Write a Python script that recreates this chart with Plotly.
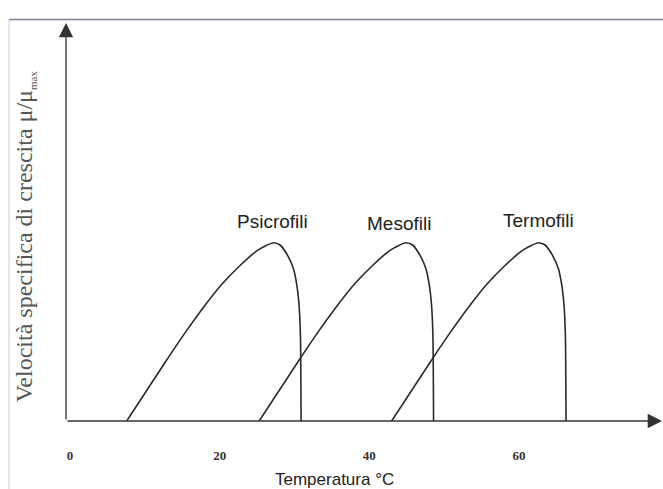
import plotly.graph_objects as go

# Growth curves: temperature (°C) vs relative specific growth rate mu/mu_max
psicrofili_t = [7.58, 10.03, 12.70, 15.37, 18.05, 20.32, 22.73, 24.96, 26.30, 27.18,
                28.07, 29.18, 29.85, 30.31, 30.61, 30.79, 30.88]
mesofili_t = [25.28, 27.73, 30.40, 33.07, 35.75, 38.02, 40.43, 42.66, 44.00, 44.88,
              45.77, 46.88, 47.55, 48.01, 48.31, 48.49, 48.58]
termofili_t = [42.98, 45.43, 48.10, 50.77, 53.45, 55.72, 58.13, 60.36, 61.70, 62.58,
               63.47, 64.58, 65.25, 65.71, 66.01, 66.19, 66.28]
growth = [0.0, 0.157, 0.328, 0.494, 0.649, 0.768, 0.872, 0.954, 0.986, 1.0,
          0.987, 0.921, 0.855, 0.762, 0.649, 0.482, 0.0]

group_names = ["Psicrofili", "Mesofili", "Termofili"]
label_t = [27.1, 44.0, 62.6]
label_y = [1.118, 1.11, 1.123]

tick_vals = [0, 20, 40, 60]
tick_text = ["0", "20", "40", "60"]

fig = go.Figure()
for temps in (psicrofili_t, mesofili_t, termofili_t):
    fig.add_trace(go.Scatter(
        x=temps, y=growth, mode="lines",
        line=dict(color="#2a2a2a", width=1.6, shape="spline", smoothing=0.6),
        hoverinfo="skip", showlegend=False,
    ))

for name, tx, ty in zip(group_names, label_t, label_y):
    fig.add_annotation(x=tx, y=ty, text=name, showarrow=False,
                       font=dict(family="Liberation Sans, Arial", size=19, color="#222222"))

# Axis arrows
fig.add_annotation(x=1, y=0, ax=0, ay=0, xref="x domain", yref="y domain",
                   axref="x domain", ayref="y domain", text="", showarrow=True,
                   arrowhead=2, arrowsize=2.2, arrowwidth=1.3, arrowcolor="#333333")
fig.add_annotation(x=0, y=1, ax=0, ay=0, xref="x domain", yref="y domain",
                   axref="x domain", ayref="y domain", text="", showarrow=True,
                   arrowhead=2, arrowsize=2.2, arrowwidth=1.3, arrowcolor="#333333")

# Axis titles
fig.add_annotation(x=0.45, y=-0.118, xref="paper", yref="paper", yanchor="top",
                   text="Temperatura °C", showarrow=False,
                   font=dict(family="Liberation Sans, Arial", size=17, color="#222222"))
fig.add_annotation(x=-0.095, y=0.465, xref="paper", yref="paper", textangle=-90,
                   text="Velocità specifica di crescita μ/μ<sub><span style='font-size:11px'>max</span></sub>",
                   showarrow=False,
                   font=dict(family="Liberation Serif, Times New Roman", size=24, color="#555555"))

# Slide frame lines
fig.add_shape(type="line", xref="paper", yref="paper", x0=-0.0956, x1=1.01, y0=1.009, y1=1.009,
              line=dict(color="#7d7f9c", width=1.5))
fig.add_shape(type="line", xref="paper", yref="paper", x0=-0.0956, x1=-0.0956, y0=1.009, y1=-0.2,
              line=dict(color="#cccccc", width=1))

fig.update_xaxes(range=[-0.53, 79.1], tickvals=tick_vals, ticktext=tick_text,
                 ticks="outside", ticklen=22, tickcolor="rgba(0,0,0,0)",
                 tickfont=dict(family="Liberation Serif, Times New Roman", size=13, color="#333333",
                               weight="bold"),
                 showgrid=False, zeroline=False, showline=False)
fig.update_yaxes(range=[0, 2.232], showticklabels=False, showgrid=False,
                 zeroline=False, showline=False)

fig.update_layout(width=663, height=489, margin=dict(l=66, r=1, t=23, b=68),
                  plot_bgcolor="white", paper_bgcolor="white")

fig.write_html("out.html")
